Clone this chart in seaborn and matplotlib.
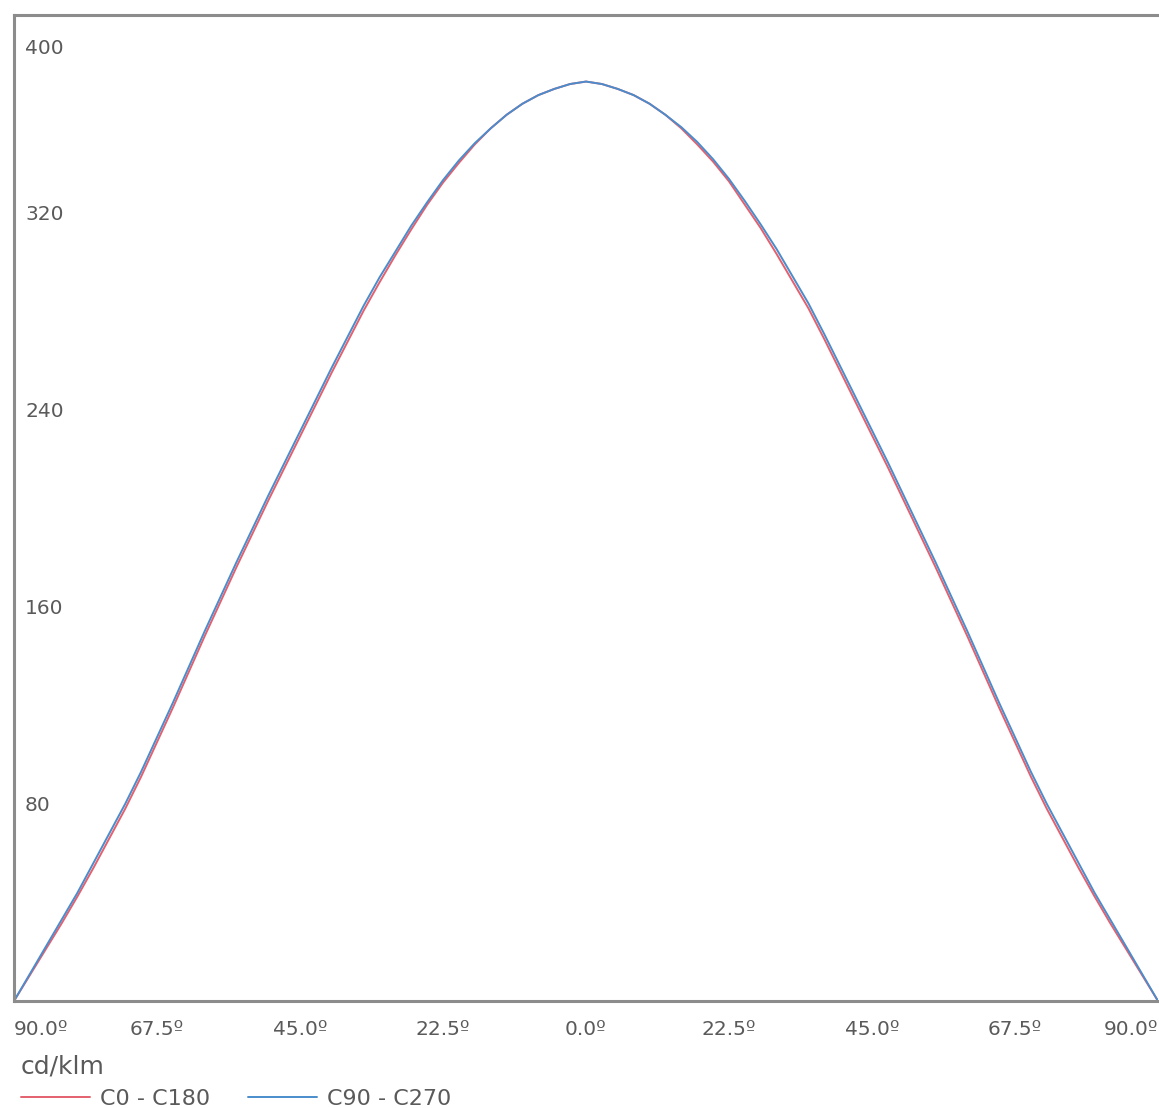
import numpy as np
import pandas as pd
import matplotlib
matplotlib.use("Agg")
import matplotlib.pyplot as plt
import seaborn as sns

# ---- data ----
angles = [-90, -87.5, -85, -82.5, -80, -77.5, -75, -72.5, -70, -67.5, -65, -62.5, -60, -57.5,
          -55, -52.5, -50, -47.5, -45, -42.5, -40, -37.5, -35, -32.5, -30, -27.5, -25, -22.5,
          -20, -17.5, -15, -12.5, -10, -7.5, -5, -2.5, 0, 2.5, 5, 7.5, 10, 12.5, 15, 17.5, 20,
          22.5, 25, 27.5, 30, 32.5, 35, 37.5, 40, 42.5, 45, 47.5, 50, 52.5, 55, 57.5, 60, 62.5,
          65, 67.5, 70, 72.5, 75, 77.5, 80, 82.5, 85, 87.5, 90]
c90_c270 = [0, 11, 22, 33, 44, 56, 68, 80, 93, 107, 121, 135.5, 150, 164, 178, 191.5, 205,
            218, 231, 244, 257, 269.5, 282, 293.5, 304, 314.5, 324, 333, 341, 348, 354, 359.5,
            364, 367.5, 370, 372, 373, 372, 370, 367.5, 364, 359.5, 354.5, 348.5, 341.5, 333.5,
            324.5, 315, 305, 294, 283, 270.5, 257.5, 244.5, 231.5, 218.5, 205, 191.5, 178, 164,
            150, 135.5, 121, 107, 93, 80, 68, 56, 44, 33, 22, 11, 0]
c0_c180 = [0, 10.5, 21, 31.5, 42.5, 54, 66, 78, 91, 105, 119, 133.5, 148, 162, 176, 189.5, 203,
           216, 229, 242, 255, 267.5, 280, 291.5, 302.5, 313, 323, 332, 340, 347.5, 354, 359.5,
           364, 367.5, 370, 372, 373, 372, 370, 367.5, 364, 359.5, 354, 347.5, 340.5, 332.5,
           323, 313.5, 303, 292, 281, 268.5, 255.5, 242.5, 229.5, 216.5, 203, 189.5, 176, 162,
           148, 133.5, 119, 105, 91, 78, 66, 54, 42.5, 31.5, 21, 10.5, 0]
series_names = ["C0 - C180", "C90 - C270"]
xtick_vals = [-90, -67.5, -45, -22.5, 0, 22.5, 45, 67.5, 90]
xtick_labels = ["90.0º", "67.5º", "45.0º", "22.5º", "0.0º", "22.5º", "45.0º", "67.5º", "90.0º"]
ytick_vals = [80, 160, 240, 320, 400]
unit_label = "cd/klm"

df = pd.DataFrame({
    "angle": angles * 2,
    "value": c0_c180 + c90_c270,
    "series": [series_names[0]] * len(angles) + [series_names[1]] * len(angles),
})

sns.set_style("white")
plt.rcParams["font.family"] = ["DejaVu Sans"]

W, H = 1159, 1108
fig = plt.figure(figsize=(W / 100, H / 100), dpi=100)
ax = fig.add_axes([14 / W, 1 - 1001 / H, (1158 - 14) / W, (1001 - 15) / H])

palette = {series_names[0]: "#e4606e", series_names[1]: "#4a8ccc"}
sns.lineplot(data=df, x="angle", y="value", hue="series", palette=palette,
             estimator=None, sort=False, linewidth=1.4, ax=ax)

ax.set_xlim(-90, 90)
ax.set_ylim(0, 400)
ax.set_xlabel("")
ax.set_ylabel("")

spine_col = "#8c8c8c"
for s in ["left", "top", "bottom"]:
    ax.spines[s].set_color(spine_col)
    ax.spines[s].set_linewidth(2.2)
ax.spines["right"].set_visible(False)

text_col = "#5a5a5a"
ax.set_xticks(xtick_vals)
ax.set_xticklabels(xtick_labels)
ax.tick_params(axis="x", length=0, pad=14, labelsize=14.5, labelcolor=text_col)
xl = ax.get_xticklabels()
xl[0].set_horizontalalignment("left")
xl[-1].set_horizontalalignment("right")

ax.set_yticks(ytick_vals[:-1])
ax.set_yticklabels([str(v) for v in ytick_vals[:-1]])
ax.tick_params(axis="y", length=0, pad=-8, labelsize=14.5, labelcolor=text_col)
for lab in ax.get_yticklabels():
    lab.set_horizontalalignment("left")
# top label sits inside the frame, below the top edge
ax.annotate(str(ytick_vals[-1]), xy=(0, ytick_vals[-1]), xycoords=("axes fraction", "data"),
            xytext=(8, -24), textcoords="offset points", ha="left", va="center",
            fontsize=14.5, color=text_col)

handles, labels = ax.get_legend_handles_labels()
ax.get_legend().remove()
leg = fig.legend(handles, labels, title=unit_label, loc="upper left",
                 bbox_to_anchor=(21 / W, 1 - 1055 / H), ncol=2, frameon=False,
                 alignment="left", fontsize=16, title_fontsize=18,
                 handlelength=3.1, handletextpad=0.45, columnspacing=1.7,
                 borderpad=0, borderaxespad=0, labelspacing=0.45)
for t in leg.get_texts():
    t.set_color(text_col)
leg.get_title().set_color(text_col)
for h in leg.get_lines():
    h.set_linewidth(1.4)

fig.savefig("out.png", dpi=100)
